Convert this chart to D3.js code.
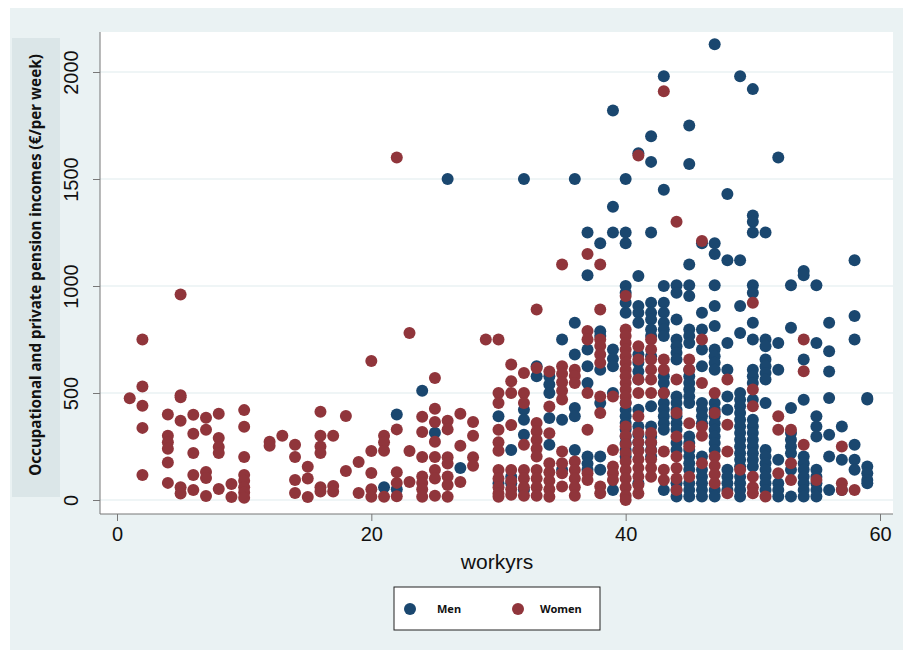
<!DOCTYPE html>
<html><head><meta charset="utf-8">
<script src="https://cdn.jsdelivr.net/npm/d3@7"></script>
<style>body{margin:0;background:#fff}</style></head>
<body><svg id="c" width="905" height="654"></svg>
<script>
const xTicks=[0,20,40,60];
const yTicks=[0,500,1000,1500,2000];
const women=[[1,475],[2,750],[2,530],[2,440],[2,337],[2,117],[4,400],[4,300],[4,270],[4,240],[4,175],[4,80],[5,960],[5,490],[5,480],[5,370],[5,60],[5,30],[6,398],[6,310],[6,220],[6,117],[6,47],[7,384],[7,328],[7,131],[7,103],[7,19],[8,403],[8,290],[8,248],[8,220],[8,51],[9,75],[9,14],[10,420],[10,342],[10,201],[10,117],[10,90],[10,60],[10,35],[10,10],[12,272],[12,253],[13,300],[14,258],[14,201],[14,94],[14,33],[15,155],[15,100],[15,14],[16,412],[16,300],[16,250],[16,220],[16,60],[16,40],[17,300],[17,65],[17,40],[18,393],[18,136],[19,178],[19,33],[20,650],[20,229],[20,126],[20,50],[20,15],[21,300],[21,270],[21,230],[21,15],[22,1600],[22,330],[22,130],[22,80],[22,18],[23,780],[23,229],[23,84],[24,389],[24,318],[24,201],[24,110],[24,80],[24,50],[24,15],[25,570],[25,426],[25,365],[25,272],[25,201],[25,140],[25,100],[25,20],[26,370],[26,330],[26,200],[26,170],[26,110],[26,70],[26,15],[27,403],[27,253],[27,84],[28,365],[28,300],[28,200],[28,160],[29,750],
[30,750],[30,500],[30,453],[30,328],[30,270],[30,230],[30,140],[30,100],[30,60],[30,30],[30,15],
[31,633],[31,555],[31,500],[31,350],[31,140],[31,90],[31,50],[31,25],
[32,594],[32,500],[32,453],[32,258],[32,140],[32,100],[32,60],[32,20],
[33,890],[33,617],[33,360],[33,320],[33,280],[33,240],[33,203],[33,140],[33,100],[33,60],[33,20],
[34,600],[34,437],[34,312],[34,172],[34,130],[34,90],[34,50],[34,15],
[35,1100],[35,625],[35,590],[35,550],[35,510],[35,470],[35,227],[35,172],[35,125],[35,63],
[36,609],[36,580],[36,547],[36,180],[36,140],[36,100],[36,60],[36,20],
[37,1150],[37,790],[37,750],[37,500],[37,328],[37,125],[37,94],
[38,1100],[38,890],[38,750],[38,720],[38,680],[38,641],[38,484],[38,406],[38,63],[38,31],
[39,484],[39,234],[39,156],[39,125],[39,94],
[40,953],[40,797],[40,766],[40,734],[40,703],[40,672],[40,641],[40,609],[40,578],[40,547],[40,516],[40,484],[40,453],[40,344],[40,300],[40,260],[40,220],[40,180],[40,140],[40,100],[40,60],[40,20],[40,0],
[41,1610],[41,719],[41,656],[41,563],[41,500],[41,391],[41,313],[41,270],[41,230],[41,190],[41,150],[41,110],[41,70],[41,30],
[42,750],[42,703],[42,656],[42,609],[42,563],[42,500],[42,313],[42,270],[42,230],[42,190],[42,150],[42,109],
[43,1910],[43,656],[43,609],[43,500],[43,227],[43,141],[43,94],
[44,1300],[44,563],[44,406],[44,297],[44,203],[44,150],[44,100],[44,47],
[45,656],[45,609],[45,359],[45,250],[45,109],
[46,1210],[46,750],[46,547],[46,344],[46,300],[46,172],
[47,500],[47,406],[47,203],[47,160],[47,120],[47,78],
[48,563],[48,352],[48,227],[48,31],
[49,141],
[50,922],[50,516],[50,438],[50,109],[50,60],[50,31],
[51,16],
[52,391],[52,328],[52,125],
[53,328],[53,172],[53,94],
[54,750],[54,602],[54,258],
[55,94],
[57,250],[57,78],[57,47],
[58,47]];
const men=[[21,60],[22,400],[22,50],[24,510],[25,314],[26,1500],[27,150],
[30,391],[30,78],
[31,234],[31,109],[31,78],
[32,1500],[32,422],[32,375],[32,305],[32,47],
[33,625],[33,578],
[34,578],[34,540],[34,500],[34,383],[34,258],
[35,750],[35,375],[35,141],
[36,1500],[36,828],[36,680],[36,430],[36,391],[36,234],
[37,1250],[37,1050],[37,703],[37,625],[37,547],[37,203],[37,170],[37,141],
[38,1200],[38,789],[38,766],[38,609],[38,453],[38,203],[38,141],
[39,1820],[39,1370],[39,1250],[39,703],[39,660],[39,625],[39,500],[39,47],
[40,1500],[40,1250],[40,1200],[40,1000],[40,969],[40,922],[40,875],[40,453],[40,422],[40,391],[40,360],[40,330],[40,297],[40,266],[40,234],[40,203],
[41,1620],[41,1047],[41,906],[41,875],[41,828],[41,680],[41,641],[41,600],[41,563],[41,422],[41,344],[41,305],[41,270],[41,234],[41,78],
[42,1700],[42,1580],[42,1250],[42,922],[42,875],[42,844],[42,797],[42,766],[42,672],[42,438],[42,344],[42,297],[42,266],[42,234],[42,203],
[43,1980],[43,1450],[43,1000],[43,922],[43,875],[43,828],[43,797],[43,766],[43,578],[43,547],[43,500],[43,453],[43,422],[43,391],[43,359],[43,328],[43,47],
[44,1003],[44,969],[44,844],[44,750],[44,719],[44,688],[44,656],[44,484],[44,453],[44,422],[44,391],[44,359],[44,328],[44,266],[44,234],[44,78],[44,47],[44,16],
[45,1750],[45,1570],[45,1100],[45,1003],[45,953],[45,797],[45,766],[45,734],[45,609],[45,578],[45,547],[45,516],[45,484],[45,453],[45,297],[45,266],[45,234],[45,203],[45,172],[45,141],[45,78],[45,47],[45,16],
[46,1200],[46,875],[46,797],[46,703],[46,625],[46,453],[46,422],[46,391],[46,359],[46,203],[46,141],[46,109],[46,78],[46,47],[46,16],
[47,2130],[47,1200],[47,1150],[47,1003],[47,906],[47,813],[47,703],[47,672],[47,641],[47,609],[47,453],[47,422],[47,391],[47,359],[47,328],[47,297],[47,266],[47,234],[47,47],[47,16],
[48,1430],[48,1120],[48,734],[48,609],[48,484],[48,422],[48,141],[48,109],[48,78],[48,47],
[49,1980],[49,1120],[49,906],[49,780],[49,500],[49,469],[49,438],[49,406],[49,375],[49,344],[49,313],[49,281],[49,250],[49,219],[49,188],[49,156],[49,109],[49,78],[49,47],[49,16],
[50,1920],[50,1330],[50,1300],[50,1250],[50,1003],[50,969],[50,828],[50,750],[50,609],[50,578],[50,547],[50,469],[50,375],[50,344],[50,313],[50,281],[50,250],[50,219],[50,188],[50,156],
[51,1250],[51,750],[51,719],[51,656],[51,625],[51,594],[51,563],[51,453],[51,234],[51,203],[51,172],[51,141],[51,109],[51,78],[51,47],
[52,1600],[52,734],[52,609],[52,188],[52,78],[52,47],[52,16],
[53,1003],[53,805],[53,430],[53,313],[53,281],[53,250],[53,219],[53,141],[53,16],
[54,1070],[54,1050],[54,656],[54,469],[54,203],[54,172],[54,141],[54,109],[54,78],[54,47],[54,16],
[55,1003],[55,734],[55,391],[55,344],[55,297],[55,141],[55,109],[55,78],[55,47],[55,16],
[56,828],[56,695],[56,600],[56,477],[56,305],[56,203],[56,47],
[57,344],[57,188],[57,47],
[58,1120],[58,860],[58,750],[58,258],[58,188],[58,141],
[59,477],[59,470],[59,156],[59,125],[59,94],[59,78]];

const svg=d3.select("#c");
const L=100,R=893,T=32,B=514;
svg.append("rect").attr("x",10).attr("y",8).attr("width",893).attr("height",642).attr("fill","#eaf2f3");
svg.append("rect").attr("x",12).attr("y",38).attr("width",48).attr("height",459).attr("fill","#dbe6e8");
svg.append("rect").attr("x",L).attr("y",T).attr("width",R-L).attr("height",B-T).attr("fill","#fff");
const x=d3.scaleLinear().domain([0,60]).range([117,880]);
const y=d3.scaleLinear().domain([0,2000]).range([500,72]);
svg.append("g").selectAll("line").data(yTicks).join("line")
 .attr("x1",L).attr("x2",R).attr("y1",d=>y(d)).attr("y2",d=>y(d)).attr("stroke","#eaf2f3").attr("stroke-width",1.5);
const xa=svg.append("g").attr("transform",`translate(0,${B})`).call(d3.axisBottom(x).tickValues(xTicks).tickSize(7).tickPadding(6));
xa.select(".domain").attr("d",`M${L},0H${R}`).attr("stroke","#777");
xa.selectAll("text").attr("font-family","Liberation Sans, Arial, sans-serif").attr("font-size",20).attr("fill","#111");
xa.selectAll(".tick line").attr("stroke","#777");
const ya=svg.append("g").attr("transform",`translate(${L},0)`).call(d3.axisLeft(y).tickValues(yTicks).tickFormat(d3.format("d")).tickSize(7).tickPadding(6));
ya.select(".domain").attr("d",`M0,${T}V${B}`).attr("stroke","#777");
ya.selectAll(".tick line").attr("stroke","#777");
ya.selectAll("text").attr("font-family","Liberation Sans, Arial, sans-serif").attr("font-size",20).attr("fill","#111")
 .attr("transform","rotate(-90)").attr("x",0).attr("y",-22).attr("dy",0).attr("text-anchor","middle");
svg.append("text").attr("x",497).attr("y",569).attr("text-anchor","middle").attr("font-family","Liberation Sans, Arial, sans-serif").attr("font-size",21).attr("fill","#111").text("workyrs");
svg.append("text").attr("transform","translate(41,265) rotate(-90)").attr("text-anchor","middle").attr("font-family","Noto Sans, sans-serif").attr("font-weight","bold").attr("font-size",15.2).attr("fill","#111").text("Occupational and private pension incomes (€/per week)");
const g=svg.append("g");
g.selectAll(".m").data(men).join("circle").attr("cx",d=>x(d[0])).attr("cy",d=>y(d[1])).attr("r",6).attr("fill","#1a476f");
g.selectAll(".w").data(women).join("circle").attr("cx",d=>x(d[0])).attr("cy",d=>y(d[1])).attr("r",6).attr("fill","#90353b");
svg.append("rect").attr("x",394).attr("y",587).attr("width",206).attr("height",43).attr("fill","#fff").attr("stroke","#222");
const leg=[["Men","#1a476f",410,437],["Women","#90353b",518,540]];
leg.forEach(l=>{svg.append("circle").attr("cx",l[2]).attr("cy",609).attr("r",6).attr("fill",l[1]);
 svg.append("text").attr("x",l[3]).attr("y",613).attr("font-family","Noto Sans, sans-serif").attr("font-weight","bold").attr("font-size",11).attr("fill","#111").text(l[0]);});
</script></body></html>
